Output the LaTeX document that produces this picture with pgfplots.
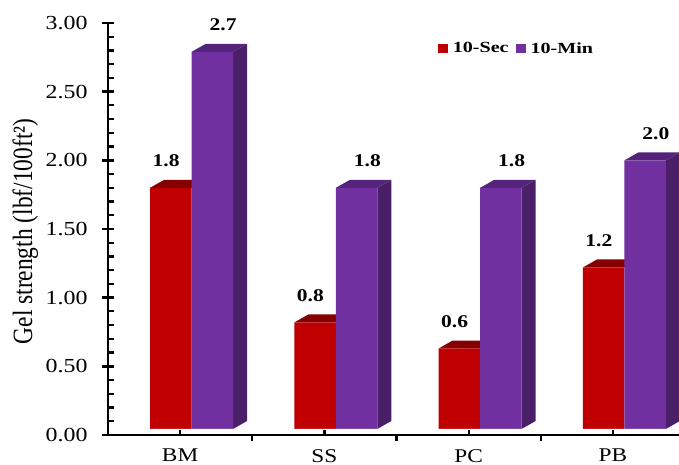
\documentclass[border=0pt]{standalone}
\usepackage{pgfplots}
\usepackage{pgfplotstable}
\usepackage{fontspec}
\pgfplotsset{compat=1.18}
\setmainfont{Liberation Serif}
\newfontfamily\widef[FakeStretch=1.2]{Liberation Serif}
\newfontfamily\narrowf[FakeStretch=0.84]{Liberation Serif}
\newfontfamily\legf[FakeStretch=1.3]{Liberation Serif}
\definecolor{redF}{HTML}{C00000}
\definecolor{redT}{HTML}{850000}
\definecolor{purF}{HTML}{7030A0}
\definecolor{purT}{HTML}{54247A}
\definecolor{purS}{HTML}{4A1F68}
\pgfplotstableread{
x y label
0 1.80 1.8
1 0.82 0.8
2 0.63 0.6
3 1.22 1.2
}\secdata
\pgfplotstableread{
x y label
0 2.79 2.7
1 1.80 1.8
2 1.80 1.8
3 2.00 2.0
}\mindata
\begin{document}
\begin{tikzpicture}
\useasboundingbox (0,0) rectangle (679bp,465bp);
\begin{axis}[
  at={(108bp,30bp)}, anchor=south west,
  scale only axis, width=571bp, height=412bp,
  xmin=-0.5, xmax=3.458, ymin=0, ymax=3,
  axis x line*=bottom, axis y line*=left,
  axis on top,
  axis line style={line width=2.5bp},
  tick style={black},
  tick align=center,
  major tick length=12bp, minor tick length=5bp,
  major tick style={line width=2.4bp},
  minor tick style={line width=2.2bp},
  minor y tick style={xshift=3bp},
  minor x tick style={yshift=-3.5bp},
  ytick={0,0.5,1,1.5,2,2.5,3},
  minor y tick num=4,
  xtick={0,1,2,3},
  xticklabels={BM,SS,PC,PB},
  minor x tick num=1,
  major x tick style={draw=none},
  extra x ticks={0,1,2,3},
  extra x tick labels={},
  extra tick style={major tick length=5bp, tick align=inside, major x tick style={draw=black,line width=2.2bp}},
  /pgf/number format/fixed,
  /pgf/number format/fixed zerofill,
  /pgf/number format/precision=2,
  /pgf/number format/assume math mode=true,
  yticklabel style={font=\fontsize{20}{20}\widef, anchor=east, xshift=-11bp},
  xticklabel style={font=\fontsize{19.5}{19.5}\widef, anchor=north, inner sep=0pt, yshift=-8bp},
  ylabel={Gel strength (lbf/100ft²)},
  every axis y label/.style={at={(axis description cs:-0.145,0.494)},rotate=90,anchor=center,font=\fontsize{28}{28}\narrowf},
  legend style={at={(axis cs:1.785,2.875)},anchor=north west,draw=none,fill=none,inner sep=0pt,
    font=\fontsize{15.5}{15.5}\legf\bfseries,legend columns=2,
    /tikz/every odd column/.append style={column sep=3bp},
    /tikz/every even column/.append style={column sep=5bp}},
  legend image code/.code={\fill[#1] (0bp,-4.5bp) rectangle (10bp,4.5bp);},
  clip=true,
]
% red tops
\addplot[fill=redT,draw=none,forget plot] coordinates {(-0.208,1.80)(-0.111,1.858)(0.177,1.858)(0.080,1.80)} -- cycle;
\addplot[fill=redT,draw=none,forget plot] coordinates {(0.792,0.82)(0.889,0.878)(1.177,0.878)(1.080,0.82)} -- cycle;
\addplot[fill=redT,draw=none,forget plot] coordinates {(1.792,0.63)(1.889,0.688)(2.177,0.688)(2.080,0.63)} -- cycle;
\addplot[fill=redT,draw=none,forget plot] coordinates {(2.792,1.22)(2.889,1.278)(3.177,1.278)(3.080,1.22)} -- cycle;
% purple sides
\addplot[fill=purS,draw=none,forget plot] coordinates {(0.367,0.044)(0.464,0.102)(0.464,2.848)(0.367,2.79)} -- cycle;
\addplot[fill=purS,draw=none,forget plot] coordinates {(1.367,0.044)(1.464,0.102)(1.464,1.858)(1.367,1.80)} -- cycle;
\addplot[fill=purS,draw=none,forget plot] coordinates {(2.367,0.044)(2.464,0.102)(2.464,1.858)(2.367,1.80)} -- cycle;
\addplot[fill=purS,draw=none,forget plot] coordinates {(3.367,0.044)(3.464,0.102)(3.464,2.058)(3.367,2.00)} -- cycle;
% purple tops
\addplot[fill=purT,draw=none,forget plot] coordinates {(0.080,2.79)(0.177,2.848)(0.464,2.848)(0.367,2.79)} -- cycle;
\addplot[fill=purT,draw=none,forget plot] coordinates {(1.080,1.80)(1.177,1.858)(1.464,1.858)(1.367,1.80)} -- cycle;
\addplot[fill=purT,draw=none,forget plot] coordinates {(2.080,1.80)(2.177,1.858)(2.464,1.858)(2.367,1.80)} -- cycle;
\addplot[fill=purT,draw=none,forget plot] coordinates {(3.080,2.00)(3.177,2.058)(3.464,2.058)(3.367,2.00)} -- cycle;
% fronts
\addplot[ybar,bar width=41.5bp,bar shift=-9.25bp,fill=redF,draw=none,
  point meta=explicit symbolic,nodes near coords,
  every node near coord/.append style={anchor=center,yshift=27bp,xshift=-14bp,text=black,font=\fontsize{18}{18}\widef\bfseries}]
  table[x=x,y=y,meta=label] {\secdata};
\addlegendentry{10-Sec}
\addplot[ybar,bar width=41.5bp,bar shift=32.25bp,fill=purF,draw=none,
  point meta=explicit symbolic,nodes near coords,
  every node near coord/.append style={anchor=center,yshift=27bp,xshift=43bp,text=black,font=\fontsize{18}{18}\widef\bfseries}]
  table[x=x,y=y,meta=label] {\mindata};
\addlegendentry{10-Min}
% clears the strip under the front faces
\addplot[ybar,bar width=84bp,bar shift=11.5bp,fill=white,draw=none,forget plot] coordinates {(0,0.044)(1,0.044)(2,0.044)(3,0.044)};
\end{axis}
\end{tikzpicture}
\end{document}
